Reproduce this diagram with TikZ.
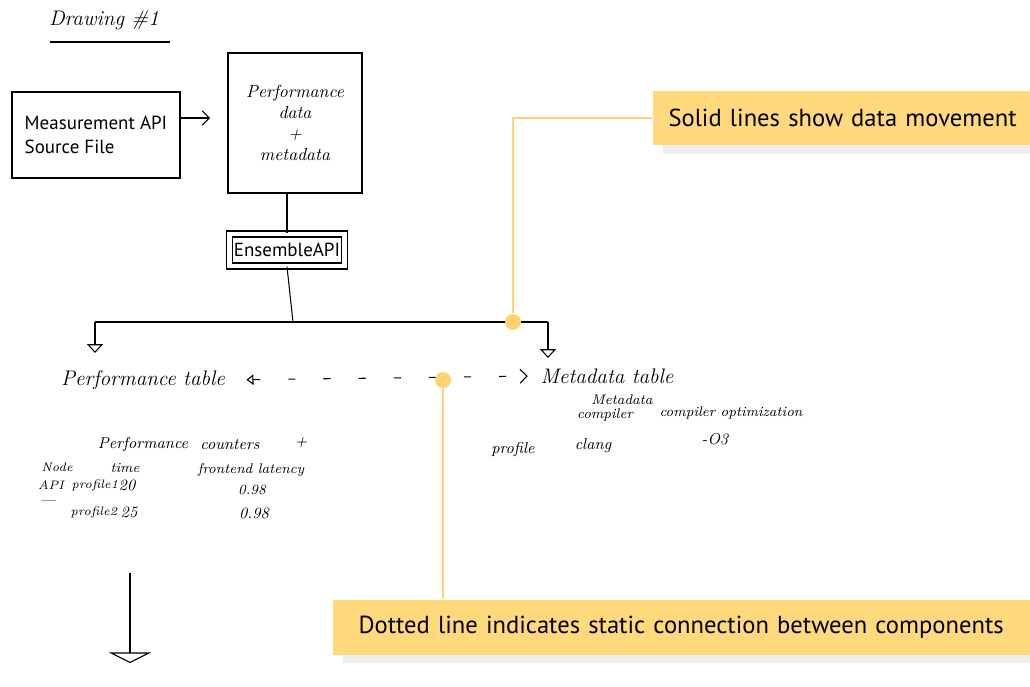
\documentclass[tikz,border=0pt]{standalone}
\usepackage{fontspec}
\newfontfamily\printfont{PT Sans}
\usetikzlibrary{arrows.meta, positioning, shadows}

\definecolor{notefill}{RGB}{255,217,124}
\definecolor{noteline}{RGB}{255,212,112}

\begin{document}
\begin{tikzpicture}[
            x = 0.02cm, y = -0.02cm, % one unit is one pixel of the sketch
            > = {Triangle[open, length=5pt, width=9pt]}, % hand drawn arrow head
            semithick % line style
        ]

        \tikzstyle{box}=[
            draw = black,
            thick,
            inner sep = 2pt
        ]
        \tikzstyle{hand}=[font = \itshape, inner sep = 1pt]
        \tikzstyle{typed}=[font = \printfont\fontsize{10.8}{13.5}\selectfont]
        \tikzstyle{note}=[
            fill = notefill,
            font = \printfont\fontsize{14}{16}\selectfont,
            minimum height = 1.1cm,
            align = left,
            drop shadow = {shadow xshift = 6pt, shadow yshift = -5pt,
                           fill = black!30, opacity = 0.22}
        ]
        \tikzstyle{leader}=[noteline, line width = 1pt]
        \tikzstyle{calldot}=[circle, fill = noteline, inner sep = 0pt, minimum size = 0.32cm]

        \useasboundingbox (0,0) rectangle (1030,686);

        % title
        \node (title) [hand, font = \itshape\large] at (104,20) {Drawing \#1};
        \coordinate (ul1) at (50,42);
        \coordinate (ul2) at (170,42);
        \draw (ul1) -- (ul2);

        % sources
        \node (meas) [box, typed, minimum width = 3.36cm, minimum height = 1.72cm, align = left] at (96,135) {Measurement API\\Source File};
        \node (perf) [box, hand, minimum width = 2.68cm, minimum height = 2.8cm, align = center] at (295,123) {Performance\\data\\+\\metadata};
        \coordinate (feed) at (210,118);
        \draw[-{Straight Barb[length=4pt]}] (meas.east |- feed) -- (feed);

        \node (ens) [box, typed, double, double distance = 2.5pt, minimum width = 2.3cm, minimum height = 0.64cm] at (287,250) {EnsembleAPI};
        \draw (ens.north |- perf.south) -- (ens.north);

        % split into the two tables
        \coordinate (split) at (293,322);
        \coordinate (ltap) at (95,322);
        \coordinate (rtap) at (548,322);
        \coordinate (ldrop) at (95,353);
        \coordinate (rdrop) at (548,358);
        \draw (ens.south) -- (split);
        \draw (ltap) -- (rtap);
        \draw[->] (ltap) -- (ldrop);
        \draw[->] (rtap) -- (rdrop);

        \node (ptab) [hand, font = \itshape\large] at (143,380) {Performance table};
        \node (mtab) [hand, font = \itshape\large] at (607,376) {Metadata table};
        \draw[{Triangle[open, length=4pt, width=6pt]}-{Straight Barb[length=4pt]},
              dash pattern = on 4pt off 16pt, shorten < = 11pt, shorten > = 6pt] (ptab.east) -- (mtab.west);

        % performance table
        \node (pc1) [hand, font = \itshape\small] at (143,445) {Performance};
        \node (pc2) [hand, font = \itshape\small] at (230,445) {counters};
        \node (pc3) [hand, font = \itshape\small] at (301,443) {+};
        \node (nodehd) [hand, font = \itshape\scriptsize] at (57,467) {Node};
        \node (timehd) [hand, font = \itshape\footnotesize] at (125,468) {time};
        \node (fehd) [hand, font = \itshape\footnotesize] at (251,470) {frontend latency};
        \node (api) [hand, font = \itshape\scriptsize] at (51,485) {API};
        \node (prof1) [hand, font = \itshape\scriptsize] at (95,485) {profile1};
        \node (t1) [hand, font = \itshape\small] at (127,485) {20};
        \node (fe1) [hand, font = \itshape\footnotesize] at (252,490) {0.98};
        \node (dash) [hand, font = \itshape\small] at (48,503) {---};
        \node (prof2) [hand, font = \itshape\scriptsize] at (94,512) {profile2};
        \node (t2) [hand, font = \itshape\small] at (129,512) {25};
        \node (fe2) [hand, font = \itshape\small] at (254,513) {0.98};

        % metadata table
        \node (mdhd) [hand, font = \itshape\footnotesize] at (622,400) {Metadata};
        \node (cchd) [hand, font = \itshape\footnotesize] at (605,415) {compiler};
        \node (cohd) [hand, font = \itshape\footnotesize] at (731,413) {compiler optimization};
        \node (mprof) [hand, font = \itshape\small] at (513,450) {profile};
        \node (cc) [hand, font = \itshape\small] at (593,446) {clang};
        \node (co) [hand, font = \itshape\small] at (715,439) {-O3};

        % next step, below
        \coordinate (nxt1) at (130,573);
        \coordinate (nxt2) at (130,663);
        \draw[-{Triangle[open, length=6pt, width=24pt]}] (nxt1) -- (nxt2);

        % callouts
        \node (d1) [calldot] at (513,322) {};
        \node (note1) [note, anchor = west, inner xsep = 0.32cm, text width = 7cm] at (652,118) {Solid lines show data movement};
        \draw[leader] (d1) |- (note1.west);

        \node (d2) [calldot] at (443,380) {};
        \node (note2) [note, anchor = west, inner xsep = 0.52cm, text width = 13cm] at (332,627) {Dotted line indicates static connection between components};
        \draw[leader] (d2) -- (d2 |- note2.north);

    \end{tikzpicture}
\end{document}
